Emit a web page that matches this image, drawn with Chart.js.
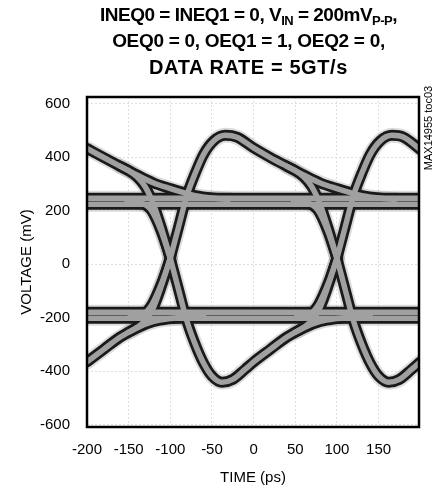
<!DOCTYPE html>
<html>
<head>
<meta charset="utf-8">
<script src="https://cdn.jsdelivr.net/npm/chart.js@4.4.0/dist/chart.umd.min.js"></script>
<style>
  body { margin: 0; background: #fff; }
  #wrap { position: relative; width: 433px; height: 491px; }
  #title {
    position: absolute; left: 82px; top: 2px; width: 333px;
    text-align: center; white-space: nowrap;
    font: bold 19px "Liberation Sans", Arial, sans-serif; line-height: 26px; color: #000;
  }
  #title sub { font-size: 13px; vertical-align: -4px; line-height: 0; }
  #title .l1 { letter-spacing: -0.5px; }
  #title .l2 { letter-spacing: -0.3px; }
  #title .l3 { letter-spacing: 0.6px; font-size: 20px; }
  #tag {
    position: absolute; left: 378px; top: 122px; width: 100px; height: 12px;
    text-align: center; font: 11px "Liberation Sans", Arial, sans-serif; line-height: 12px;
    transform: rotate(-90deg); color: #000;
  }
</style>
</head>
<body>
<div id="wrap">
  <canvas id="eye" width="433" height="491"></canvas>
  <div id="title"><span class="l1">INEQ0 = INEQ1 = 0, V<sub>IN</sub> = 200mV<sub>P-P</sub>,</span><br><span class="l2">OEQ0 = 0, OEQ1 = 1, OEQ2 = 0,</span><br><span class="l3">DATA RATE = 5GT/s</span></div>
  <div id="tag">MAX14955 toc03</div>
</div>
<script>
// axis ticks
const xTicks = [-200, -150, -100, -50, 0, 50, 100, 150];
const yTicks = [-600, -400, -200, 0, 200, 400, 600];

// eye traces, [time ps, voltage mV] read off the scope shot
// upper half
const flatHighA = [[-200, 246], [200, 246]];
const flatHighB = [[-200, 224], [200, 224]];
const decayHigh = [[-200, 432], [-180, 398], [-160, 365], [-140, 333], [-120, 303], [-100, 282], [-85, 268], [-70, 256], [-50, 247], [-30, 242]];
const fallPeakA = [[-160, 365], [-150, 349], [-140, 326], [-130, 288], [-120, 222], [-110, 128], [-100, 22]];
const fallFlatA = [[-152, 235], [-137, 230], [-123, 202], [-111, 124], [-100, 22]];
const riseA = [[-100, 22], [-90, 140], [-80, 257], [-70, 340], [-60, 410], [-48, 460], [-34, 481], [-20, 474], [0, 434], [20, 398], [40, 365], [60, 333], [80, 303], [100, 282], [115, 268], [130, 256], [150, 247], [170, 242]];
const fallPeakB = [[40, 365], [50, 349], [60, 326], [70, 288], [80, 222], [90, 128], [100, 22]];
const fallFlatB = [[48, 235], [63, 230], [77, 202], [89, 124], [100, 22]];
const riseB = [[100, 22], [110, 140], [120, 257], [130, 340], [140, 410], [152, 460], [166, 481], [180, 474], [200, 428]];
// lower half
const flatLowA = [[-200, -202], [200, -202]];
const flatLowB = [[-200, -180], [200, -180]];
const decayLow = [[-200, -365], [-180, -318], [-160, -272], [-140, -238], [-120, -214], [-100, -203], [-80, -197], [-60, -194]];
const riseTroughA = [[-150, -254], [-140, -236], [-130, -210], [-120, -160], [-110, -75], [-100, 22]];
const riseFlatA = [[-148, -191], [-133, -186], [-122, -150], [-110, -68], [-100, 22]];
const fallA = [[-100, 22], [-90, -96], [-80, -213], [-70, -300], [-60, -370], [-50, -418], [-38, -441], [-25, -430], [-10, -392], [0, -365], [20, -318], [40, -272], [60, -238], [80, -214], [100, -203], [120, -197], [140, -194]];
const riseTroughB = [[50, -254], [60, -236], [70, -210], [80, -160], [90, -75], [100, 22]];
const riseFlatB = [[52, -191], [67, -186], [78, -150], [90, -68], [100, 22]];
const fallB = [[100, 22], [110, -96], [120, -213], [130, -300], [140, -370], [150, -418], [162, -441], [175, -430], [190, -392], [200, -365]];

const traces = [flatHighA, flatHighB, decayHigh, fallPeakA, fallFlatA, riseA, fallPeakB, fallFlatB, riseB,
                flatLowA, flatLowB, decayLow, riseTroughA, riseFlatA, fallA, riseTroughB, riseFlatB, fallB];

// each trace drawn as three strokes: grey haze, black body, grey core
const layers = [
    {color: 'rgba(170,170,170,0.4)', width: 15, order: 3},
    {color: '#1a1a1a', width: 11, order: 2},
    {color: '#a0a0a0', width: 5.5, order: 1}
];
const datasets = [];
for (const layer of layers) {
    for (const tr of traces) {
        datasets.push({
            data: tr.map(p => ({x: p[0], y: p[1]})),
            borderColor: layer.color, borderWidth: layer.width, order: layer.order,
            pointRadius: 0, cubicInterpolationMode: 'monotone',
            borderCapStyle: 'round', borderJoinStyle: 'round', clip: 0
        });
    }
}

const frame = {
    id: 'frame',
    afterDatasetsDraw(chart) {
        const {ctx, chartArea: a} = chart;
        ctx.save();
        ctx.lineWidth = 2.5; ctx.strokeStyle = '#000';
        ctx.strokeRect(a.left, a.top, a.right - a.left, a.bottom - a.top);
        ctx.restore();
    }
};

const font = {family: '"Liberation Sans", Arial, sans-serif', size: 15};

new Chart(document.getElementById('eye'), {
    type: 'line',
    data: {datasets: datasets},
    options: {
        responsive: false, animation: false, events: [],
        layout: {padding: {top: 97, right: 14, left: 0, bottom: 0}},
        scales: {
            x: {
                type: 'linear', min: -200, max: 198.5,
                afterBuildTicks: axis => { axis.ticks = xTicks.map(v => ({value: v})); },
                afterFit: axis => { axis.height = 64; },
                ticks: {font: font, color: '#000', padding: 14, maxRotation: 0},
                grid: {color: '#e0e0e0', drawTicks: false},
                border: {display: false, dash: [2, 2]},
                title: {display: true, text: 'TIME (ps)', font: font, color: '#000', padding: {top: 0, bottom: 4}}
            },
            y: {
                type: 'linear', min: -608, max: 624,
                afterBuildTicks: axis => { axis.ticks = yTicks.map(v => ({value: v})); },
                afterFit: axis => { axis.width = 87; },
                ticks: {font: font, color: '#000', padding: 17},
                grid: {color: '#e0e0e0', drawTicks: false},
                border: {display: false, dash: [2, 2]},
                title: {display: true, text: 'VOLTAGE (mV)', font: font, color: '#000', padding: {top: 18, bottom: 0}}
            }
        },
        plugins: {legend: {display: false}, tooltip: {enabled: false}, title: {display: false}}
    },
    plugins: [frame]
});
</script>
</body>
</html>
